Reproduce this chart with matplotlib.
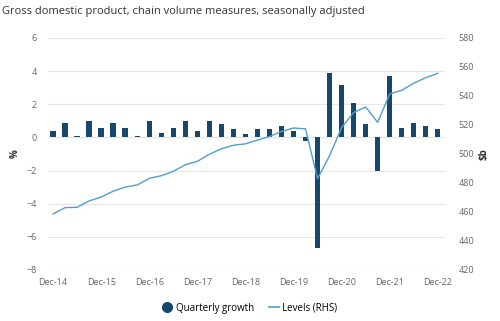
import matplotlib
matplotlib.use("Agg")
import matplotlib.pyplot as plt
from matplotlib.lines import Line2D
import numpy as np

plt.rcParams['font.family'] = ['Open Sans', 'DejaVu Sans']

quarters = ["Dec-14", "Mar-15", "Jun-15", "Sep-15", "Dec-15", "Mar-16", "Jun-16", "Sep-16",
            "Dec-16", "Mar-17", "Jun-17", "Sep-17", "Dec-17", "Mar-18", "Jun-18", "Sep-18",
            "Dec-18", "Mar-19", "Jun-19", "Sep-19", "Dec-19", "Mar-20", "Jun-20", "Sep-20",
            "Dec-20", "Mar-21", "Jun-21", "Sep-21", "Dec-21", "Mar-22", "Jun-22", "Sep-22",
            "Dec-22"]
growth = [0.4, 0.85, 0.1, 0.97, 0.56, 0.85, 0.56, 0.1,
          0.97, 0.28, 0.56, 0.97, 0.38, 0.97, 0.8, 0.48,
          0.18, 0.48, 0.48, 0.68, 0.38, -0.2, -6.7, 3.9,
          3.17, 2.08, 0.79, -2.0, 3.7, 0.56, 0.86, 0.68,
          0.5]
levels = [458.6, 463.0, 463.2, 467.6, 470.3, 474.3, 477.2, 478.6,
          483.2, 485.0, 488.0, 492.6, 494.9, 499.8, 503.6, 506.0,
          507.0, 509.6, 512.0, 515.5, 517.9, 517.3, 483.0, 498.8,
          518.2, 528.6, 532.4, 521.8, 541.4, 543.9, 548.8, 552.6,
          555.6]
tick_labels = ["Dec-14", "Dec-15", "Dec-16", "Dec-17", "Dec-18", "Dec-19", "Dec-20", "Dec-21", "Dec-22"]

bar_color = '#17486c'
line_color = '#4f9fcb'
text_color = '#666666'

fig = plt.figure(figsize=(5.0, 3.21), dpi=100)
ax = fig.add_axes([0.096, 0.159, 0.794, 0.7227])
x = np.arange(len(quarters))
ax.bar(x, growth, width=0.45, color=bar_color, zorder=3)
ax.set_ylim(-8, 6)
ax.set_yticks(np.arange(-8, 7, 2))
ax.set_yticklabels([f"{v}".replace('-', '\u2212') for v in range(-8, 7, 2)])
ax.set_xlim(-0.42, 32.6)
ax.set_xticks([quarters.index(t) for t in tick_labels])
ax.set_xticklabels(tick_labels)
ax.grid(axis='y', color='#e6e6e6', linewidth=0.8, zorder=0)
for s in ax.spines.values():
    s.set_visible(False)
ax.tick_params(axis='both', length=0, labelsize=6.5, colors=text_color)
ax.tick_params(axis='y', pad=8)
ax.tick_params(axis='x', pad=6)
ax.set_ylabel('%', fontsize=7, fontweight='bold', color='#333333', labelpad=4)

ax2 = ax.twinx()
ax2.plot(x, levels, color=line_color, linewidth=1.0, zorder=4)
ax2.set_ylim(420, 580)
ax2.set_yticks(np.arange(420, 581, 20))
for s in ax2.spines.values():
    s.set_visible(False)
ax2.tick_params(axis='y', length=0, labelsize=6.5, colors=text_color, pad=10)
ax2.set_ylabel('$b', fontsize=7, fontweight='bold', color='#333333', labelpad=3)

fig.text(0.004, 0.965, "Gross domestic product, chain volume measures, seasonally adjusted",
         fontsize=8, color='#333333', va='center', ha='left')

handles = [Line2D([0], [0], marker='o', color='none', markerfacecolor=bar_color,
                  markeredgecolor=bar_color, markersize=7),
           Line2D([0], [0], color=line_color, linewidth=1.2)]
fig.legend(handles, ["Quarterly growth", "Levels (RHS)"], loc='center',
           bbox_to_anchor=(0.5, 0.04), ncol=2, frameon=False, fontsize=7,
           handlelength=1.0, handletextpad=0.4, columnspacing=1.5)

fig.savefig("out.png", dpi=100)
